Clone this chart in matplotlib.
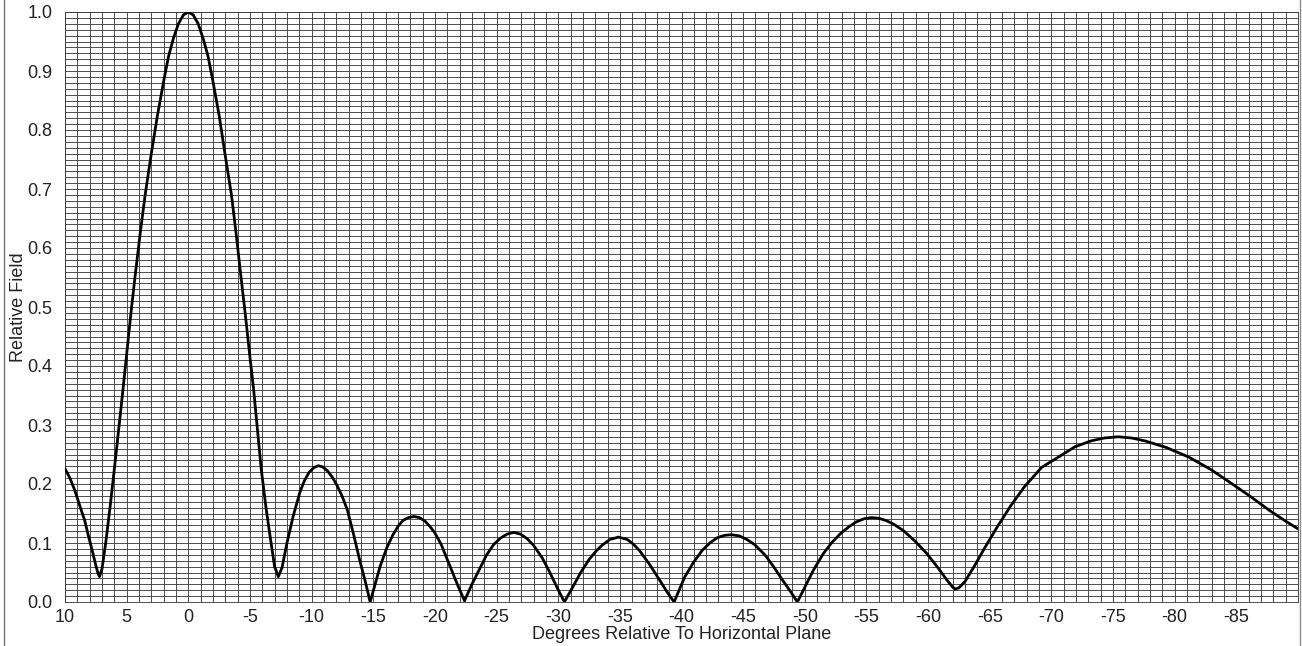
import matplotlib
matplotlib.use("Agg")
import matplotlib.pyplot as plt
from matplotlib.lines import Line2D
from matplotlib.ticker import MultipleLocator
import numpy as np

plt.rcParams['font.family'] = ['Liberation Sans', 'DejaVu Sans']

# elevation angle (deg) and relative field
angle = [10.0, 9.6, 9.2, 8.8, 8.4, 8.1, 7.8, 7.5, 7.3, 7.2,
         7.0, 6.7, 6.35, 6.0, 5.45, 5.0, 4.65, 4.3, 3.9, 3.5,
         3.0, 2.5, 1.95, 1.6, 1.2, 0.8, 0.4, 0.0, -0.4, -0.8,
         -1.22, -1.6, -1.95, -2.5, -3.0, -3.5, -3.88, -4.25, -4.6, -5.0,
         -5.3, -5.9, -6.3, -6.65, -7.0, -7.3,
         -7.6, -8.0, -8.5, -9.05, -9.4, -9.8, -10.2, -10.55, -10.9, -11.3,
         -11.7, -12.1, -12.5, -12.9, -13.4, -13.9, -14.35, -14.75,
         -15.55, -16.1, -16.6, -17.0, -17.4, -17.85, -18.3, -18.75, -19.2, -19.6,
         -20.0, -20.5, -21.2, -21.8, -22.4,
         -23.0, -23.65, -24.2, -24.75, -25.3, -25.85, -26.4, -26.95, -27.5, -28.0,
         -28.7, -29.3, -29.9, -30.5,
         -31.2, -31.8, -32.5, -33.1, -33.6, -34.2, -34.9, -35.6, -36.1, -36.6,
         -37.4, -38.2, -38.8, -39.4,
         -40.25, -41.0, -41.7, -42.3, -42.9, -43.5, -44.05, -44.7, -45.3, -45.95,
         -46.8, -47.5, -48.2, -48.9, -49.4,
         -50.0, -50.7, -51.5, -52.2, -52.9, -53.6, -54.2, -54.8, -55.4, -56.0,
         -56.6, -57.2, -58.0, -59.0, -59.9, -60.8, -61.5, -62.0, -62.2, -62.5,
         -63.0, -63.7, -64.6, -65.6, -66.7, -67.8, -69.2, -70.6, -71.9, -73.2,
         -74.3, -75.4, -76.5, -77.6, -79.3, -81.1, -82.9, -84.6, -86.2, -87.7,
         -89.0, -90.0]
field = [0.226, 0.210, 0.189, 0.163, 0.138, 0.112, 0.088, 0.062, 0.047, 0.043,
         0.056, 0.100, 0.160, 0.225, 0.330, 0.420, 0.490, 0.555, 0.625, 0.690,
         0.760, 0.825, 0.888, 0.925, 0.956, 0.980, 0.995, 1.000, 0.995, 0.980,
         0.954, 0.925, 0.888, 0.825, 0.756, 0.690, 0.624, 0.555, 0.492, 0.415,
         0.360, 0.228, 0.160, 0.109, 0.060, 0.043,
         0.058, 0.100, 0.145, 0.186, 0.205, 0.220, 0.228, 0.231, 0.229, 0.222,
         0.211, 0.196, 0.178, 0.156, 0.115, 0.071, 0.035, 0.000,
         0.060, 0.092, 0.114, 0.128, 0.138, 0.143, 0.145, 0.143, 0.137, 0.128,
         0.117, 0.098, 0.062, 0.031, 0.002,
         0.030, 0.057, 0.080, 0.097, 0.108, 0.115, 0.118, 0.115, 0.107, 0.096,
         0.075, 0.051, 0.025, 0.000,
         0.026, 0.049, 0.072, 0.087, 0.097, 0.106, 0.110, 0.106, 0.098, 0.087,
         0.064, 0.038, 0.018, 0.000,
         0.042, 0.068, 0.088, 0.100, 0.109, 0.113, 0.114, 0.112, 0.106, 0.097,
         0.079, 0.059, 0.037, 0.016, 0.000,
         0.025, 0.054, 0.082, 0.101, 0.116, 0.128, 0.136, 0.141, 0.143, 0.142,
         0.138, 0.132, 0.121, 0.102, 0.082, 0.058, 0.038, 0.025, 0.022, 0.024,
         0.035, 0.059, 0.092, 0.127, 0.163, 0.195, 0.228, 0.246, 0.263, 0.273,
         0.278, 0.280, 0.278, 0.273, 0.262, 0.246, 0.225, 0.201, 0.178, 0.155,
         0.137, 0.124]

x_major = [10, 5, 0, -5, -10, -15, -20, -25, -30, -35, -40, -45, -50, -55, -60,
           -65, -70, -75, -80, -85]
y_major = [0.0, 0.1, 0.2, 0.3, 0.4, 0.5, 0.6, 0.7, 0.8, 0.9, 1.0]

fig = plt.figure(figsize=(13.02, 6.46), dpi=100)
ax = fig.add_axes([65 / 1302, 44 / 646, 1233 / 1302, 590 / 646])

ax.plot(angle, field, color='black', lw=2.0, solid_joinstyle='round', zorder=3)

ax.set_xlim(10, -90)
ax.set_ylim(0, 1.0)
ax.set_xticks(x_major)
ax.set_xticklabels([str(v) for v in x_major])
ax.set_yticks(y_major)
ax.set_yticklabels(['%.1f' % v for v in y_major])
ax.xaxis.set_minor_locator(MultipleLocator(1))
ax.yaxis.set_minor_locator(MultipleLocator(0.01))
ax.grid(which='both', color='#404040', lw=0.65)
ax.set_axisbelow(True)
ax.tick_params(which='both', length=0, labelsize=13, colors='#222222')
ax.tick_params(axis='x', pad=5)
ax.tick_params(axis='y', pad=9)
for s in ax.spines.values():
    s.set_color('#404040')
    s.set_linewidth(0.65)

ax.set_xlabel('Degrees Relative To Horizontal Plane', fontsize=13, labelpad=0,
              color='#222222')
ax.set_ylabel('Relative Field', fontsize=13, labelpad=0.5, color='#222222')

# thin frame lines at the left and right edges of the picture
fig.add_artist(Line2D([3.5 / 1302, 3.5 / 1302], [0, 1], color='0.45', lw=1,
                      transform=fig.transFigure))
fig.add_artist(Line2D([1299.5 / 1302, 1299.5 / 1302], [0, 1], color='0.55', lw=1,
                      transform=fig.transFigure))

fig.savefig('out.png', dpi=100)
